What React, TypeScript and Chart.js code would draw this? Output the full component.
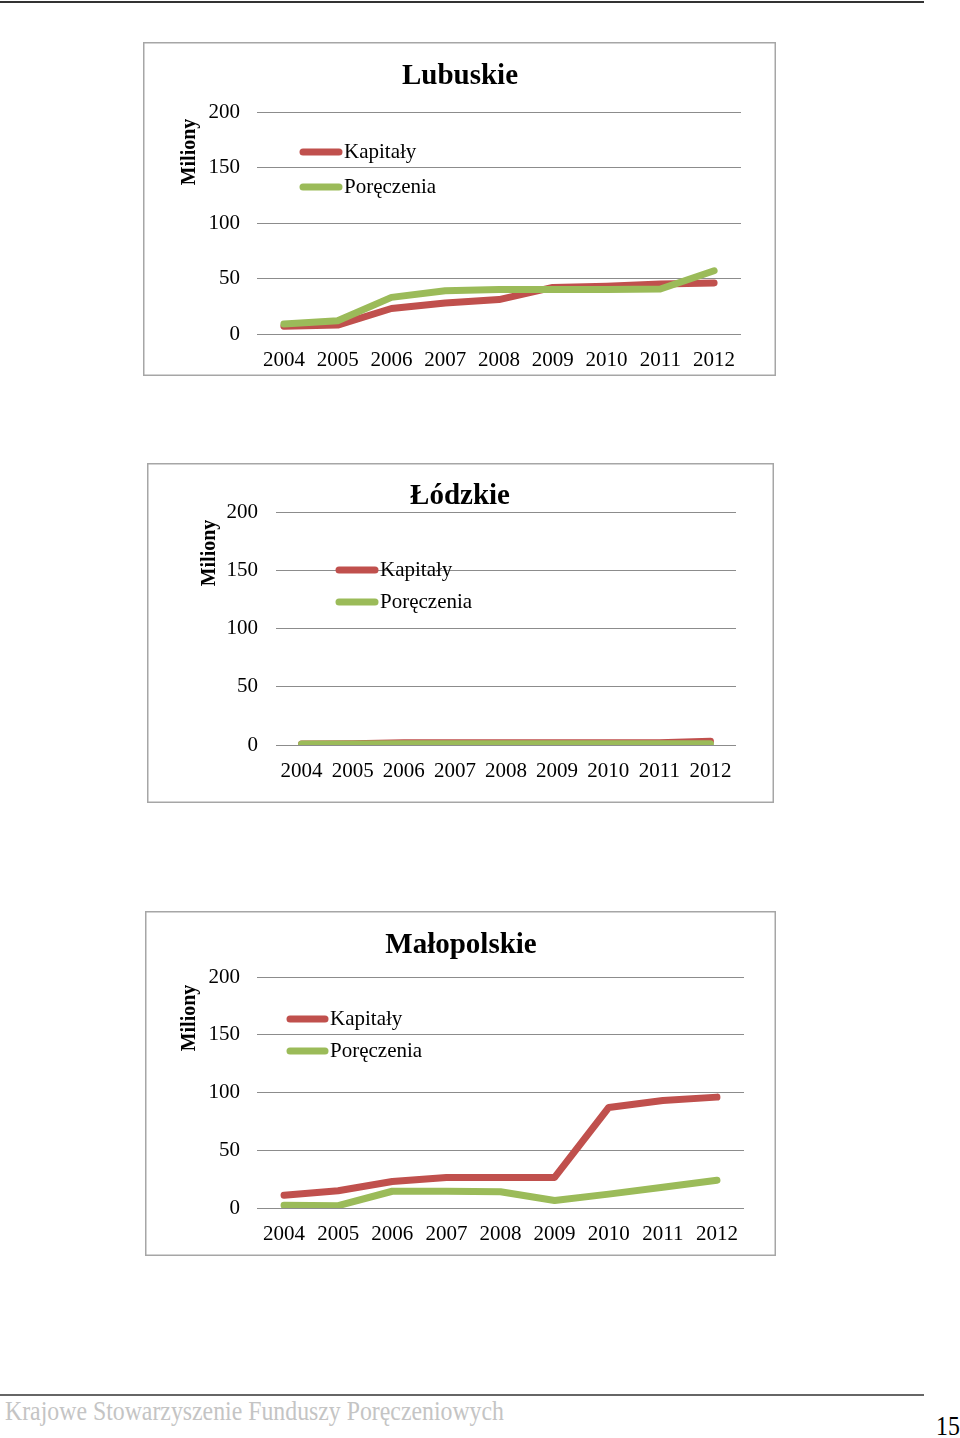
import React, { useEffect, useRef } from "react";
import { Chart, registerables } from "chart.js";

Chart.register(...registerables);

const YEARS = ["2004", "2005", "2006", "2007", "2008", "2009", "2010", "2011", "2012"];
const SERIES_NAMES = ["Kapitały", "Poręczenia"];
const Y_TICKS = [0, 50, 100, 150, 200];

const LUBUSKIE_KAPITALY = [7, 8, 23, 28, 31, 42, 43, 45, 46];
const LUBUSKIE_PORECZENIA = [9, 12, 33, 39, 40, 40, 40, 40.5, 57];

const LODZKIE_KAPITALY = [0.8, 1.0, 1.9, 1.9, 1.9, 1.9, 1.9, 1.9, 3.3];
const LODZKIE_PORECZENIA = [0.9, 0.9, 1.0, 1.0, 1.0, 1.0, 1.0, 1.0, 1.0];

const MALOPOLSKIE_KAPITALY = [11, 15, 23, 26.5, 26.5, 26.5, 87, 93, 96];
const MALOPOLSKIE_PORECZENIA = [2.3, 2, 14.5, 14.5, 14, 6.5, 12, 18, 24];

const RED = "#C0504D";
const GREEN = "#9BBB59";
const FONT = "'Liberation Serif', 'Times New Roman', serif";

Chart.defaults.font.family = FONT;

const decorPlugin = {
  id: "decor",
  afterDraw(chart: any, _args: any, opts: any) {
    const ctx = chart.ctx;
    const w = chart.width;
    const h = chart.height;
    ctx.save();
    // frame
    ctx.strokeStyle = "#a6a6a6";
    ctx.lineWidth = 1.5;
    ctx.strokeRect(0.75, 0.75, w - 1.5, h - 1.5);
    // title
    ctx.fillStyle = "#000";
    ctx.font = `bold 29px ${FONT}`;
    ctx.textAlign = "center";
    ctx.textBaseline = "middle";
    ctx.fillText(opts.title, opts.titleX, opts.titleY);
    // axis title
    ctx.save();
    ctx.translate(opts.axisX, opts.axisY);
    ctx.rotate(-Math.PI / 2);
    ctx.font = `bold 20px ${FONT}`;
    ctx.fillText("Miliony", 0, 0);
    ctx.restore();
    // legend
    const ds = chart.data.datasets;
    ds.forEach((d: any, i: number) => {
      const y = opts.legendY + i * opts.legendGap;
      ctx.strokeStyle = d.borderColor;
      ctx.lineWidth = 7;
      ctx.lineCap = "round";
      ctx.beginPath();
      ctx.moveTo(opts.legendX + 3, y);
      ctx.lineTo(opts.legendX + opts.legendLen - 3, y);
      ctx.stroke();
      ctx.fillStyle = "#000";
      ctx.font = `21px ${FONT}`;
      ctx.textAlign = "left";
      ctx.textBaseline = "middle";
      ctx.fillText(d.label, opts.legendX + opts.legendLen + 2, y);
    });
    ctx.restore();
  },
};

type Props = {
  left: number;
  top: number;
  width: number;
  height: number;
  title: string;
  kap: number[];
  por: number[];
  area: { l: number; t: number; r: number; b: number };
  yPad: number;
  titlePos: [number, number];
  axisPos: [number, number];
  legend: [number, number, number, number];
};

function LineChartBox(p: Props) {
  const ref = useRef<HTMLCanvasElement>(null);
  useEffect(() => {
    if (!ref.current) return;
    const chart = new Chart(ref.current, {
      type: "line",
      data: {
        labels: YEARS,
        datasets: [
          {
            label: SERIES_NAMES[0],
            data: p.kap,
            borderColor: RED,
            backgroundColor: RED,
            borderWidth: 7,
            pointRadius: 0,
            tension: 0,
            borderCapStyle: "round",
            borderJoinStyle: "round",
            order: 1,
          },
          {
            label: SERIES_NAMES[1],
            data: p.por,
            borderColor: GREEN,
            backgroundColor: GREEN,
            borderWidth: 7,
            pointRadius: 0,
            tension: 0,
            borderCapStyle: "round",
            borderJoinStyle: "round",
            order: 0,
          },
        ],
      },
      options: {
        responsive: false,
        animation: false,
        events: [],
        layout: { padding: { left: 0, top: p.area.t, right: p.area.r, bottom: 0 } },
        scales: {
          x: {
            offset: true,
            grid: { display: false, drawTicks: false },
            border: { display: false },
            ticks: {
              color: "#000",
              font: { family: FONT, size: 21 },
              padding: 14,
              autoSkip: false,
              maxRotation: 0,
            },
            afterFit(scale: any) {
              scale.height = p.area.b;
            },
          },
          y: {
            min: 0,
            max: 200,
            afterBuildTicks(scale: any) {
              scale.ticks = Y_TICKS.map((v) => ({ value: v }));
            },
            grid: { color: "#8c8c8c", lineWidth: 1, drawTicks: false },
            border: { display: false },
            ticks: {
              color: "#000",
              font: { family: FONT, size: 21 },
              padding: p.yPad,
            },
            afterFit(scale: any) {
              scale.width = p.area.l;
            },
          },
        },
        plugins: {
          legend: { display: false },
          title: { display: false },
          tooltip: { enabled: false },
          decor: {
            title: p.title,
            titleX: p.titlePos[0],
            titleY: p.titlePos[1],
            axisX: p.axisPos[0],
            axisY: p.axisPos[1],
            legendX: p.legend[0],
            legendLen: p.legend[1],
            legendY: p.legend[2],
            legendGap: p.legend[3],
          },
        } as any,
      },
      plugins: [decorPlugin],
    });
    return () => chart.destroy();
  }, []);
  return (
    <canvas
      ref={ref}
      width={p.width}
      height={p.height}
      style={{ position: "absolute", left: p.left, top: p.top, width: p.width, height: p.height }}
    />
  );
}

export default function App() {
  return (
    <div style={{ position: "absolute", left: 0, top: 0, width: 960, height: 1438, background: "#fff", overflow: "hidden" }}>
      <div style={{ position: "absolute", left: 0, top: 1, width: 924, height: 2, background: "#333" }} />
      <LineChartBox
        left={143}
        top={42}
        width={633}
        height={334}
        title="Lubuskie"
        kap={LUBUSKIE_KAPITALY}
        por={LUBUSKIE_PORECZENIA}
        area={{ l: 114, t: 70, r: 35, b: 42 }}
        yPad={17}
        titlePos={[317, 35]}
        axisPos={[47, 110]}
        legend={[157, 42, 110, 35]}
      />
      <LineChartBox
        left={147}
        top={463}
        width={627}
        height={340}
        title="Łódzkie"
        kap={LODZKIE_KAPITALY}
        por={LODZKIE_PORECZENIA}
        area={{ l: 129, t: 49, r: 38, b: 58 }}
        yPad={18}
        titlePos={[313, 34]}
        axisPos={[63, 90]}
        legend={[189, 42, 107, 32]}
      />
      <LineChartBox
        left={145}
        top={911}
        width={631}
        height={345}
        title="Małopolskie"
        kap={MALOPOLSKIE_KAPITALY}
        por={MALOPOLSKIE_PORECZENIA}
        area={{ l: 112, t: 66, r: 32, b: 48 }}
        yPad={17}
        titlePos={[316, 35]}
        axisPos={[45, 107]}
        legend={[142, 41, 108, 32]}
      />
      <div style={{ position: "absolute", left: 0, top: 1394, width: 924, height: 2, background: "#666" }} />
      <div
        style={{
          position: "absolute",
          left: 5,
          top: 1397,
          fontFamily: FONT,
          fontSize: 28,
          lineHeight: "28px",
          color: "#c4c4c4",
          whiteSpace: "nowrap",
          transform: "scaleX(0.85)",
          transformOrigin: "0 0",
        }}
      >
        Krajowe Stowarzyszenie Funduszy Poręczeniowych
      </div>
      <div
        style={{
          position: "absolute",
          left: 936,
          top: 1412,
          fontFamily: FONT,
          fontSize: 28,
          lineHeight: "28px",
          color: "#000",
          whiteSpace: "nowrap",
          transform: "scaleX(0.85)",
          transformOrigin: "0 0",
        }}
      >
        15
      </div>
    </div>
  );
}
